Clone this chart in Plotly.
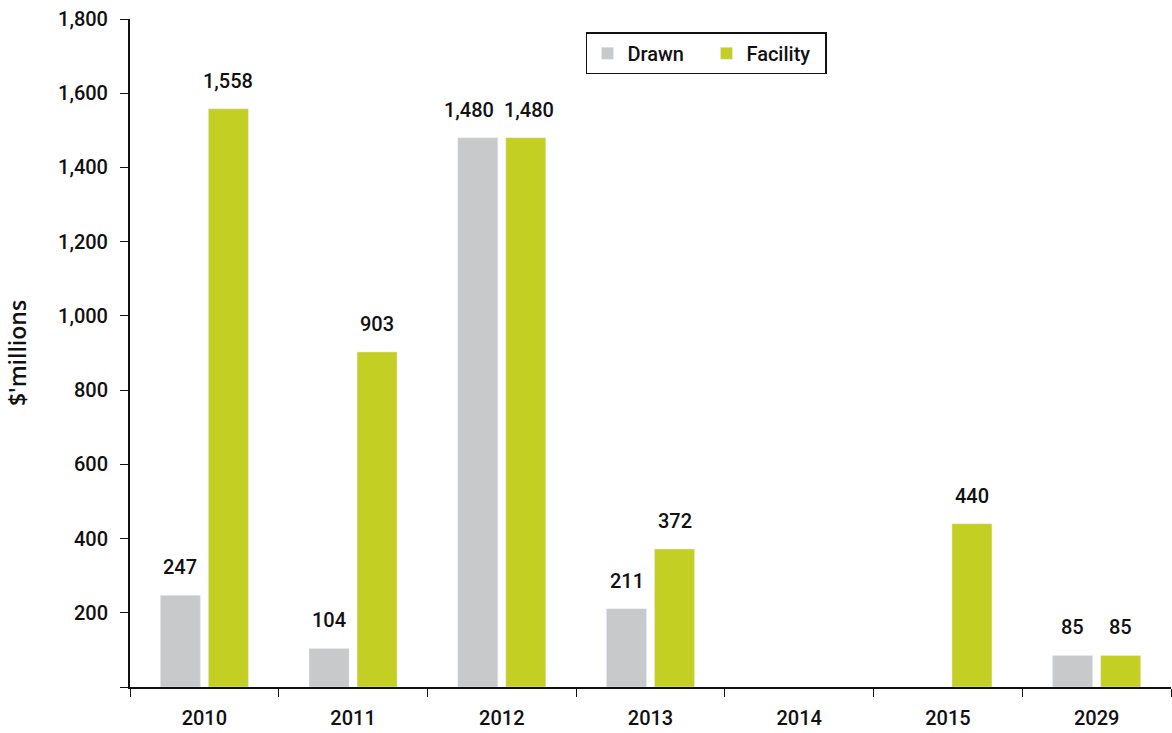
import plotly.graph_objects as go

years = ["2010", "2011", "2012", "2013", "2014", "2015", "2029"]
drawn = [247, 104, 1480, 211, None, None, 85]
facility = [1558, 903, 1480, 372, None, 440, 85]
y_ticks = [0, 200, 400, 600, 800, 1000, 1200, 1400, 1600, 1800]
y_ticktext = ["", "200", "400", "600", "800", "1,000", "1,200", "1,400", "1,600", "1,800"]

FONT = "Roboto"
GREY = "#C8C9CB"
GREEN = "#C3CF23"
TXT = "#111111"

# label nudges (px) where the two labels of one year would collide
label_nudge = {"2012": (-9, 3)}

fig = go.Figure()
fig.add_trace(go.Bar(name="Drawn", x=years, y=drawn, marker_color=GREY))
fig.add_trace(go.Bar(name="Facility", x=years, y=facility, marker_color=GREEN))

# value labels above each bar (x as category index, y in data units)
annotations = []
for k, (series, dx) in enumerate(((drawn, -24), (facility, 24))):
    for i, v in enumerate(series):
        if v is None:
            continue
        nudge = label_nudge.get(years[i], (0, 0))[k]
        annotations.append(dict(
            x=i, y=v, xref="x", yref="y", text=f"{v:,}", showarrow=False,
            xanchor="center", yanchor="bottom", xshift=dx + nudge, yshift=14,
            font=dict(family=FONT, size=20, color=TXT, weight=500),
        ))

fig.update_layout(
    width=1172, height=733,
    margin=dict(l=130, r=1, t=19, b=46, autoexpand=False),
    plot_bgcolor="white", paper_bgcolor="white",
    barmode="group", bargap=0.354, bargroupgap=0.167,
    font=dict(family=FONT, size=20, color=TXT),
    showlegend=True,
    annotations=annotations,
    legend=dict(
        orientation="h", x=0.438, y=0.98, xanchor="left", yanchor="top",
        bordercolor=TXT, borderwidth=1.5, bgcolor="white",
        font=dict(family=FONT, size=20, color=TXT, weight=500),
        traceorder="normal", itemwidth=30,
        entrywidth=74, entrywidthmode="pixels",
    ),
    xaxis=dict(
        type="category", range=[-0.5, 6.5], showline=True, linecolor=TXT, linewidth=2,
        ticks="outside", tickson="boundaries", ticklen=8, tickcolor=TXT,
        tickfont=dict(family=FONT, size=20, color=TXT, weight=500),
        ticklabelstandoff=12,
        showgrid=False, automargin=False,
    ),
    yaxis=dict(
        range=[0, 1800], tickvals=y_ticks, ticktext=y_ticktext,
        showline=True, linecolor=TXT, linewidth=2,
        ticks="outside", ticklen=8, tickcolor=TXT,
        tickfont=dict(family=FONT, size=20, color=TXT, weight=500),
        ticklabelstandoff=8, ticklabeloverflow="allow",
        showgrid=False, zeroline=False, automargin=False,
        title=dict(text="$'millions", font=dict(family="Open Sans", size=23, color=TXT, weight=600), standoff=25),
    ),
)

# remove the default 8px page margin so the figure fills the window exactly
fig.write_html(
    "out.html",
    config={"displayModeBar": False},
    post_script="document.body.style.margin='0';document.body.style.overflow='hidden';",
)
